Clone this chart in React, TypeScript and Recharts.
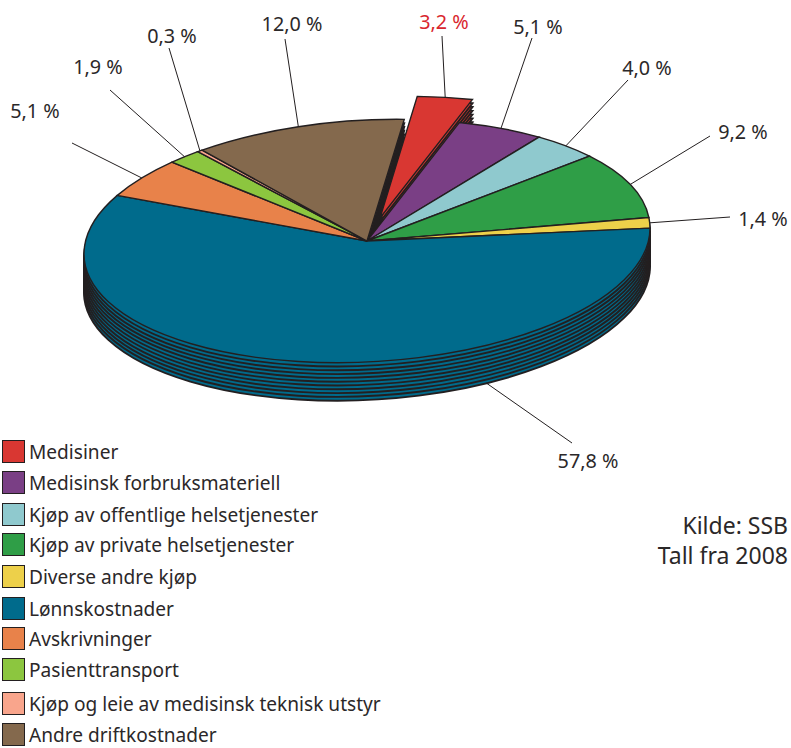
import { PieChart, Pie, Sector, Legend } from 'recharts';

const names = [
  'Medisiner',
  'Medisinsk forbruksmateriell',
  'Kjøp av offentlige helsetjenester',
  'Kjøp av private helsetjenester',
  'Diverse andre kjøp',
  'Lønnskostnader',
  'Avskrivninger',
  'Pasienttransport',
  'Kjøp og leie av medisinsk teknisk utstyr',
  'Andre driftkostnader',
];
const shares = [3.2, 5.1, 4.0, 9.2, 1.4, 57.8, 5.1, 1.9, 0.3, 12.0];
const colors = ['#d93732', '#7a3f85', '#8fc9ce', '#2f9e47', '#edd04a', '#006b8c', '#e8824a', '#8cc63f', '#f9a58c', '#84694d'];

// leader line end and label centre, by slice
const lineEnds = [[442, 36], [532, 38], [628, 80], [710, 136], [730, 217], [572, 443], [72, 143], [110, 90], [169, 48], [285, 39]];
const labelPos = [[444, 21], [538, 26], [647, 67], [743, 131], [763, 218], [588, 460], [35, 110], [98, 66], [172, 35], [292, 23]];
const legendTops = [440, 471, 503, 533, 565, 597, 627, 658, 692, 723];

const data = names.map((name, i) => ({ name, value: shares[i], fill: colors[i] }));

const CX = 367;
const CY = 241;
const RX = 283;
const SQUASH = 0.4276;
const TILT = -2.6;
const START = 82.44;
const DEPTH = 38;
const STEP = 3.8;
const EXPLODE = [13, -23];
const layers = Array.from({ length: 11 }, (_, i) => DEPTH - i * STEP);
const INK = '#2b2829';
const FONT = '"Noto Sans", sans-serif';

const rim = (deg: number) => {
  const a = (deg * Math.PI) / 180;
  const u = RX * Math.cos(a);
  const v = -RX * SQUASH * Math.sin(a);
  return [CX + u, CY + v + u * Math.tan((TILT * Math.PI) / 180)];
};

const makeShape = (drop: number, strokeWidth: number) => (props: any) => {
  const off = props.name === names[0] ? EXPLODE : [0, 0];
  const t = `translate(${CX + off[0]},${CY + drop + off[1]}) skewY(${TILT}) scale(1,${SQUASH}) translate(${-props.cx},${-props.cy})`;
  return (
    <g transform={t}>
      <Sector {...props} stroke="#231f20" strokeWidth={strokeWidth} vectorEffect="non-scaling-stroke" />
    </g>
  );
};

const renderLabel = (props: any) => {
  const i = props.index;
  let from = rim(props.midAngle);
  if (i === 0) from = [from[0] + EXPLODE[0], from[1] + EXPLODE[1]];
  // the wage slice is labelled low on its right side, under the wall
  if (i === 5) {
    const p = rim(-65);
    from = [p[0], p[1] + DEPTH];
  }
  return (
    <g key={i}>
      <line x1={from[0]} y1={from[1]} x2={lineEnds[i][0]} y2={lineEnds[i][1]} stroke="#231f20" strokeWidth={1} />
      <text x={labelPos[i][0]} y={labelPos[i][1]} textAnchor="middle" dominantBaseline="central" fontFamily={FONT} fontSize={19.8} fill={i === 0 ? '#d9262e' : INK}>
        {shares[i].toFixed(1).replace('.', ',') + ' %'}
      </text>
    </g>
  );
};

const LegendBox = () => (
  <div style={{ position: 'relative', width: 400, height: 748 }}>
    {names.map((n, i) => (
      <div key={n} style={{ position: 'absolute', left: 2, top: legendTops[i], display: 'flex', alignItems: 'center', height: 23 }}>
        <div style={{ width: 21, height: 21, background: colors[i], border: '1px solid #231f20' }} />
        <span style={{ marginLeft: 4, fontFamily: FONT, fontSize: 19.1, color: INK, whiteSpace: 'nowrap' }}>{n}</span>
      </div>
    ))}
  </div>
);

export default function App() {
  return (
    <div style={{ position: 'absolute', left: 0, top: 0, width: 791, height: 748, background: '#fff', overflow: 'hidden' }}>
      <PieChart width={791} height={748} margin={{ top: 0, right: 0, bottom: 0, left: 0 }}>
        {layers.map((drop) => (
          <Pie
            key={drop}
            data={data}
            dataKey="value"
            nameKey="name"
            cx={CX}
            cy={CY}
            innerRadius={0}
            outerRadius={RX}
            startAngle={START}
            endAngle={START - 360}
            legendType="none"
            labelLine={false}
            label={drop < 0.01 ? renderLabel : false}
            shape={makeShape(drop, drop < 0.01 ? 1.4 : 1.9)}
            isAnimationActive={false}
          />
        ))}
        <Legend content={<LegendBox />} wrapperStyle={{ left: 0, top: 0, width: 400, height: 748, bottom: 'auto' }} />
      </PieChart>
      <div style={{ position: 'absolute', right: 3, top: 510, textAlign: 'right', fontFamily: FONT, fontSize: 23, lineHeight: '30px', color: INK }}>
        Kilde: SSB
        <br />
        Tall fra 2008
      </div>
    </div>
  );
}
